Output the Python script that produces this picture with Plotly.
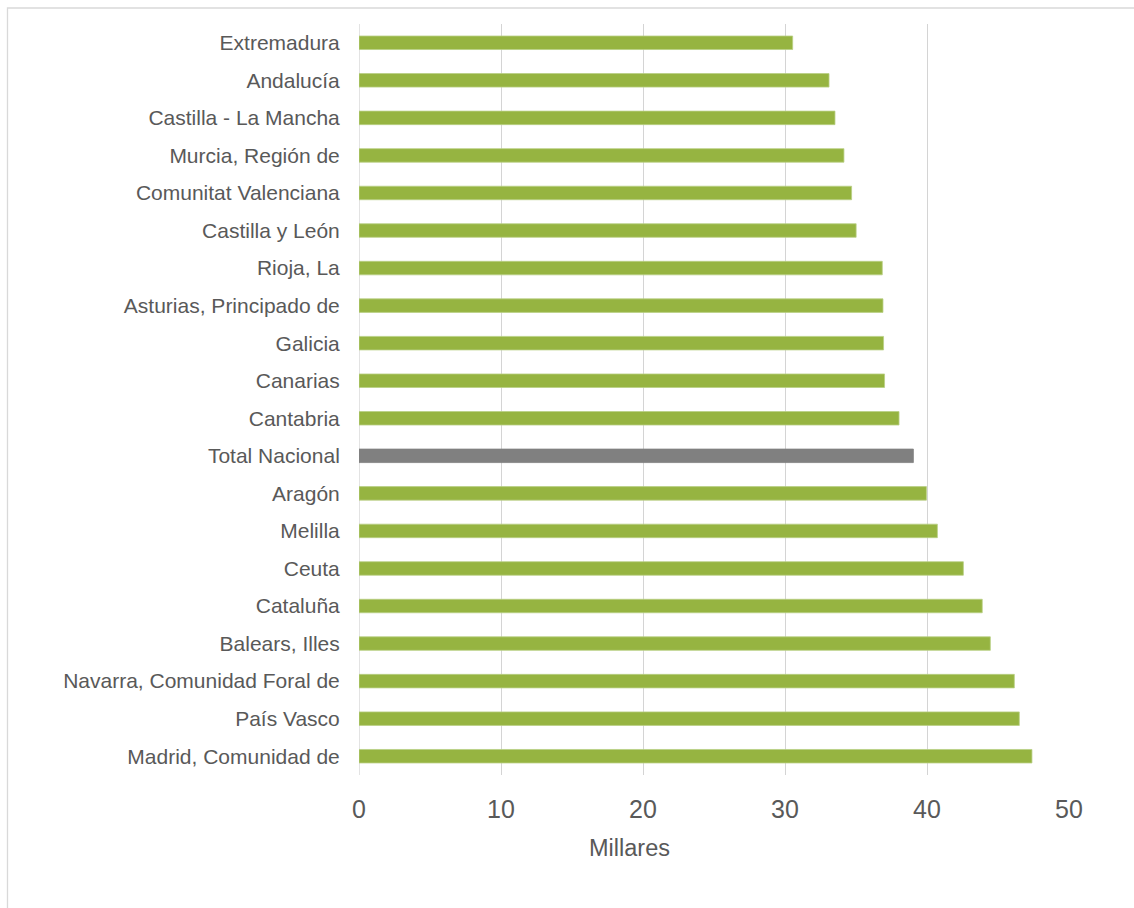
import plotly.graph_objects as go

# Regions, listed top to bottom as drawn
regiones = [
    "Extremadura", "Andalucía", "Castilla - La Mancha", "Murcia, Región de",
    "Comunitat Valenciana", "Castilla y León", "Rioja, La",
    "Asturias, Principado de", "Galicia", "Canarias", "Cantabria",
    "Total Nacional", "Aragón", "Melilla", "Ceuta", "Cataluña",
    "Balears, Illes", "Navarra, Comunidad Foral de", "País Vasco",
    "Madrid, Comunidad de",
]
# Values in thousands (Millares)
valores = [
    30.54, 33.10, 33.52, 34.15, 34.69, 35.01, 36.85, 36.90, 36.94, 37.01,
    38.03, 39.04, 39.96, 40.73, 42.56, 43.89, 44.46, 46.15, 46.50, 47.39,
]
ticks_x = [0, 10, 20, 30, 40, 50]

VERDE = "#96B441"
GRIS = "#808080"
colores = [GRIS if r == "Total Nacional" else VERDE for r in regiones]
bordes = ["#808080" if r == "Total Nacional" else "#B9CF84" for r in regiones]

W, H = 1134, 908
ML, MR, MT, MB = 359, 65, 24, 133
pw, ph = W - ML - MR, H - MT - MB

fig = go.Figure(
    go.Bar(
        x=valores,
        y=regiones,
        orientation="h",
        marker=dict(color=colores, line=dict(color=bordes, width=0.8)),
        width=0.36,
        hoverinfo="x+y",
    )
)

def px_to_paper_x(px):
    return (px - ML) / pw

def px_to_paper_y(py):
    return (H - MB - py) / ph

fig.update_layout(
    width=W,
    height=H,
    margin=dict(l=ML, r=MR, t=MT, b=MB),
    paper_bgcolor="white",
    plot_bgcolor="white",
    showlegend=False,
    font=dict(family="Liberation Sans, Arial, sans-serif", color="#595959"),
    xaxis=dict(
        range=[0, 50],
        tickvals=ticks_x,
        ticktext=[str(t) for t in ticks_x],
        showgrid=True,
        gridcolor="#D4D4D4",
        gridwidth=1.3,
        zeroline=False,
        showline=False,
        tickfont=dict(size=25, color="#595959"),
        ticks="outside",
        ticklen=12,
        tickcolor="rgba(0,0,0,0)",
        fixedrange=True,
    ),
    yaxis=dict(
        autorange="reversed",
        type="category",
        showgrid=False,
        zeroline=False,
        showline=False,
        tickfont=dict(size=21, color="#595959"),
        ticks="outside",
        ticklen=14,
        tickcolor="rgba(0,0,0,0)",
        fixedrange=True,
    ),
    annotations=[
        dict(
            text="Millares",
            x=px_to_paper_x(629),
            y=px_to_paper_y(848),
            xref="paper",
            yref="paper",
            showarrow=False,
            font=dict(size=23.5, color="#595959"),
            xanchor="center",
            yanchor="middle",
        )
    ],
    shapes=[
        # chart frame
        dict(
            type="rect",
            xref="paper",
            yref="paper",
            x0=px_to_paper_x(7.5),
            x1=px_to_paper_x(1145),
            y0=px_to_paper_y(920),
            y1=px_to_paper_y(8),
            line=dict(color="#D9D9D9", width=1.3),
            fillcolor="rgba(0,0,0,0)",
            layer="below",
        ),
        # vertical axis line at zero
        dict(
            type="line",
            xref="x",
            yref="paper",
            x0=0,
            x1=0,
            y0=0,
            y1=1,
            line=dict(color="#D4D4D4", width=1.3),
            layer="below",
        ),
    ],
)

fig.write_html("out.html")
